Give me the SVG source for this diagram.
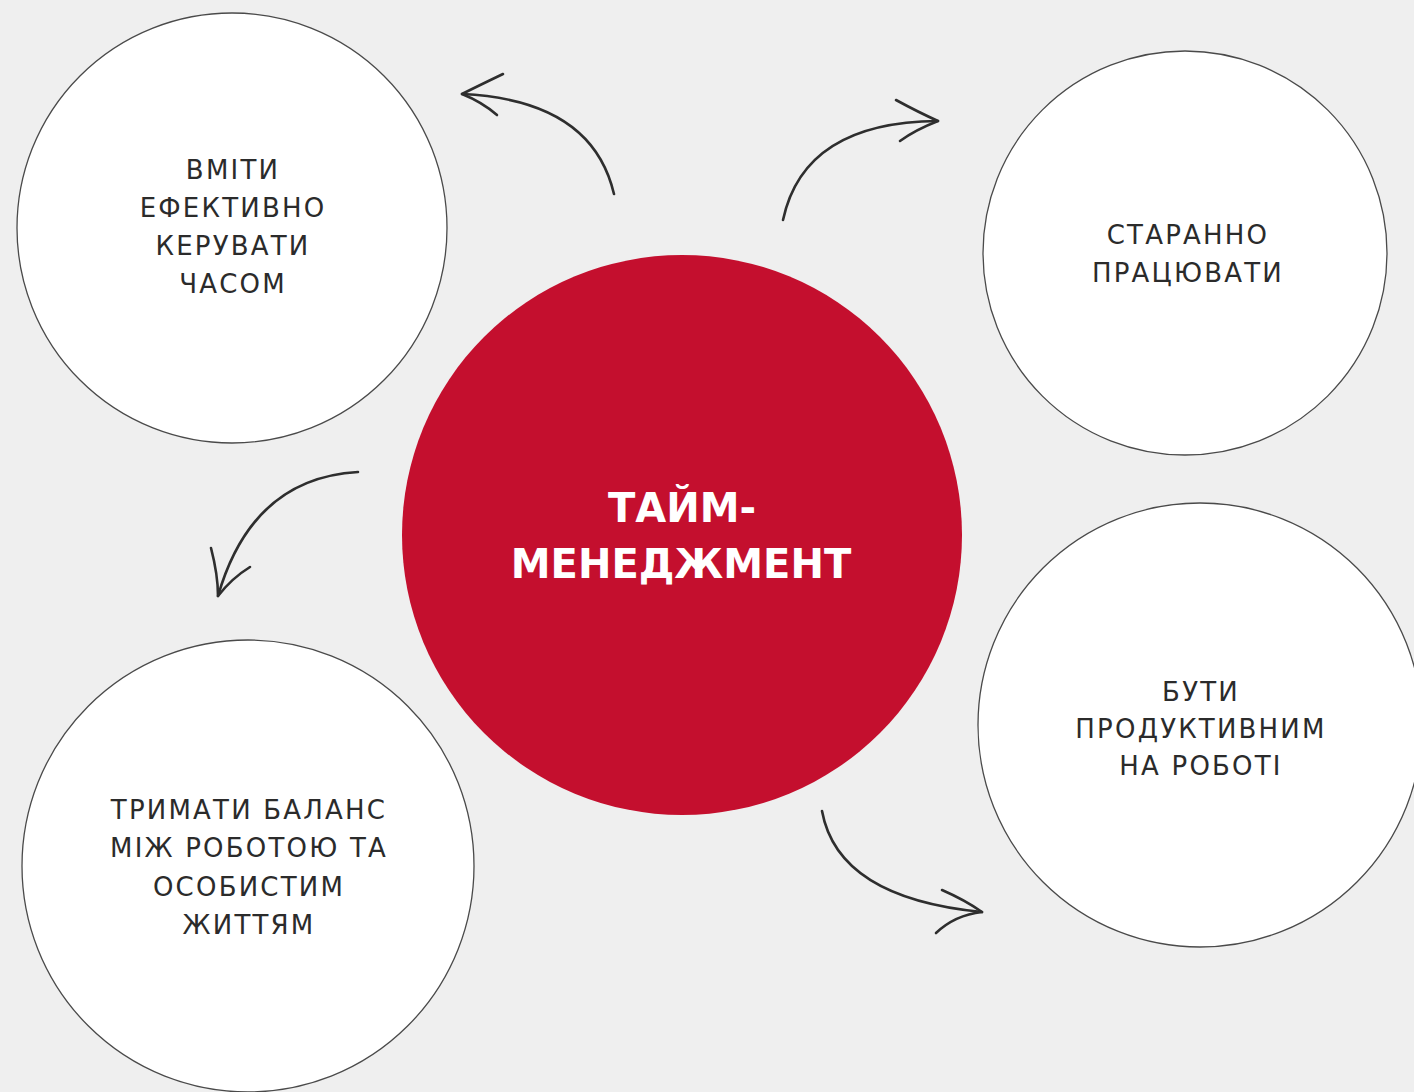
<svg xmlns="http://www.w3.org/2000/svg" width="1414" height="1092" viewBox="0 0 1414 1092">
<style>
.bg{fill:#efefef}
.node{fill:#ffffff;stroke:#4a4a4a;stroke-width:1.3}
.core{fill:#c40f2e}
.lbl{font-family:"DejaVu Sans","Liberation Sans",sans-serif;font-size:26px;fill:#2b2b2b;text-anchor:middle;letter-spacing:2.2px}
.title{font-family:"DejaVu Sans","Liberation Sans",sans-serif;font-size:40px;font-weight:bold;fill:#ffffff;text-anchor:middle}
.conn{fill:none;stroke:#2e2e2e;stroke-width:2.6;stroke-linecap:round;stroke-linejoin:round}
</style>
<rect class="bg" x="0" y="0" width="1414" height="1092"/>
<g id="node-time">
<circle class="node" cx="232" cy="228" r="215"/>
<text class="lbl"><tspan x="233" y="179">ВМІТИ</tspan><tspan x="233" y="217">ЕФЕКТИВНО</tspan><tspan x="233" y="255">КЕРУВАТИ</tspan><tspan x="233" y="293">ЧАСОМ</tspan></text>
</g>
<g id="node-work">
<circle class="node" cx="1185" cy="253" r="202"/>
<text class="lbl"><tspan x="1188" y="244">СТАРАННО</tspan><tspan x="1188" y="282">ПРАЦЮВАТИ</tspan></text>
</g>
<g id="node-productive">
<circle class="node" cx="1200" cy="725" r="222"/>
<text class="lbl"><tspan x="1201" y="701">БУТИ</tspan><tspan x="1201" y="738">ПРОДУКТИВНИМ</tspan><tspan x="1201" y="775">НА РОБОТІ</tspan></text>
</g>
<g id="node-balance">
<circle class="node" cx="248" cy="866" r="226"/>
<text class="lbl"><tspan x="249" y="819">ТРИМАТИ БАЛАНС</tspan><tspan x="249" y="857">МІЖ РОБОТОЮ ТА</tspan><tspan x="249" y="896">ОСОБИСТИМ</tspan><tspan x="249" y="934">ЖИТТЯМ</tspan></text>
</g>
<g id="node-center">
<circle class="core" cx="682" cy="535" r="280"/>
<text class="title"><tspan x="682" y="522">ТАЙМ-</tspan><tspan x="681" y="578">МЕНЕДЖМЕНТ</tspan></text>
</g>
<g id="connectors">
<path class="conn" d="M 614 194 Q 592 100 462 94"/>
<path class="conn" d="M 503 74 Q 478 86 462 94 Q 482 102 497 115"/>
<path class="conn" d="M 783 220 Q 804 122 938 121"/>
<path class="conn" d="M 896 100 Q 918 112 938 121 Q 915 130 900 141"/>
<path class="conn" d="M 358 472 Q 252 478 218 596"/>
<path class="conn" d="M 211 548 Q 218 575 218 596 Q 232 578 250 567"/>
<path class="conn" d="M 822 811 Q 838 898 982 912"/>
<path class="conn" d="M 942 890 Q 965 900 982 912 Q 955 915 936 933"/>
</g>
</svg>
